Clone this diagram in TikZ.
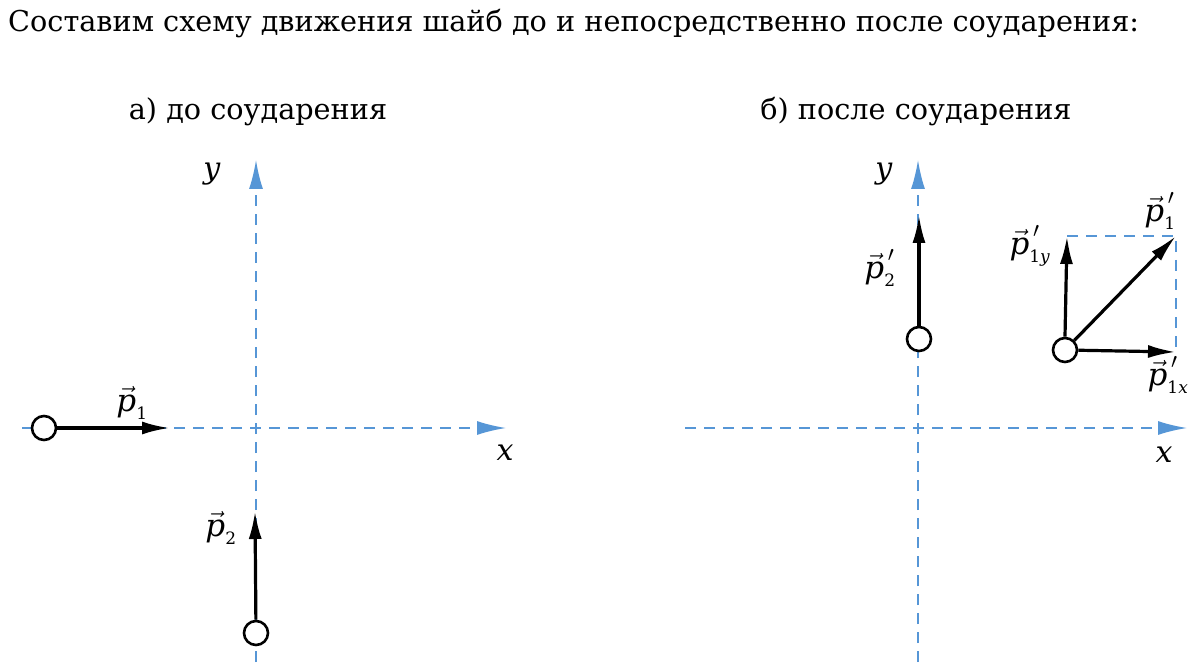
\documentclass[tikz,border=0pt]{standalone}
\usepackage{fix-cm}
\usepackage{amsmath}
\usepackage{fontspec}
\setmainfont{DejaVu Serif}
\usetikzlibrary{arrows.meta}
\definecolor{axisblue}{RGB}{86,150,214}
\newcommand\subsz[1]{\hbox{\fontsize{17}{17}\selectfont #1}}
\newcommand\pv[2]{\ensuremath{\vec{\textit{p}}^{\,#1}_{\subsz{#2}}}}
\tikzset{
  axis/.style={axisblue, line width=1.8pt, dash pattern=on 11pt off 8pt, -{Latex[length=29pt,width=14pt,fill=axisblue]}},
  guide/.style={axisblue, line width=1.8pt, dash pattern=on 11pt off 8pt},
  puck/.style={circle, draw=black, line width=2.6pt, fill=white, minimum size=24pt, inner sep=0pt},
  vec/.style={black, line width=3.2pt, -{Latex[length=28pt,width=13pt]}},
  lbl/.style={font=\fontsize{30}{36}\selectfont, inner sep=0pt},
  plbl/.style={font=\fontsize{31}{36}\selectfont, inner sep=0pt},
  txt/.style={font=\fontsize{28.7}{34}\selectfont, inner sep=0pt}
}
\begin{document}
\begin{tikzpicture}[x=1pt,y=-1pt]
\useasboundingbox (0,0) rectangle (1200,671);
\node[txt, anchor=west] (title) at (8,24) {Составим схему движения шайб до и непосредственно после соударения:};
\node[txt] (ta) at (258,112) {а) до соударения};
\node[txt] (tb) at (916,112) {б) после соударения};
% left axes
\coordinate (ax0) at (22,428);
\coordinate (ax1) at (506,428);
\coordinate (ay0) at (256,662);
\coordinate (ay1) at (256,160);
\draw[axis] (ax0) -- (ax1);
\draw[axis] (ay0) -- (ay1);
\node[lbl] (xl) at (505,453) {\textit{x}};
\node[lbl] (yl) at (212,174) {\textit{y}};
% puck 1
\node[puck] (a1) at (44,428) {};
\coordinate (a1e) at (170,428);
\draw[vec] (a1) -- (a1e);
\node[plbl] (p1) at (132,403) {\pv{}{1}};
% puck 2
\node[puck] (a2) at (256,633) {};
\coordinate (a2e) at (255,511);
\draw[vec] (a2) -- (a2e);
\node[plbl] (p2) at (221,528) {\pv{}{2}};
% right axes
\coordinate (bx0) at (685,428);
\coordinate (bx1) at (1187,428);
\coordinate (by0) at (918,662);
\coordinate (by1) at (918,160);
\draw[axis] (bx0) -- (bx1);
\draw[axis] (by0) -- (by1);
\node[lbl] (xr) at (1164,455) {\textit{x}};
\node[lbl] (yr) at (884,174) {\textit{y}};
% puck 2'
\node[puck] (b2) at (919,339) {};
\coordinate (b2e) at (919,215);
\draw[vec] (b2) -- (b2e);
\node[plbl] (q2) at (880,268) {\pv{\prime}{2}};
% puck 1'
\node[puck] (b1) at (1065,350) {};
\coordinate (cx) at (1176,352);
\coordinate (cy) at (1067,236);
\coordinate (cd) at (1176,236);
\draw[guide] (cy) -- (cd) -- (cx);
\draw[vec] (b1) -- (cx);
\draw[vec] (b1.north) -- (cy);
\draw[vec] (b1) -- (cd);
\node[plbl] (q1) at (1160,211) {\pv{\prime}{1}};
\node[plbl] (q1y) at (1030,246) {\pv{\prime}{1\textit{y}}};
\node[plbl] (q1x) at (1168,375) {\pv{\prime}{1\textit{x}}};
\end{tikzpicture}
\end{document}
